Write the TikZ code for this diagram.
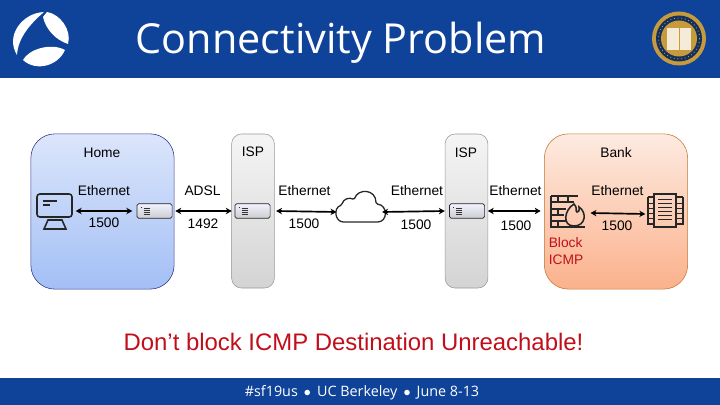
\documentclass[tikz,border=0pt]{standalone}
\usepackage{fontspec}
\setmainfont{Liberation Sans}
\newfontfamily\titlefont{Open Sans}
\usetikzlibrary{arrows.meta,positioning,calc}
\definecolor{hdrblue}{HTML}{0F4299}
\definecolor{alertred}{HTML}{C00F1A}
\definecolor{sealgold}{HTML}{C79B3B}
\definecolor{sealnavy}{HTML}{14305E}
\definecolor{hometop}{HTML}{DCE6FB}
\definecolor{homebot}{HTML}{A3BFF5}
\definecolor{banktop}{HTML}{FDEBE1}
\definecolor{bankbot}{HTML}{FBB18C}
\begin{document}
\begin{tikzpicture}[
    x=0.025cm, y=-0.025cm,
    font=\fontsize{9.8pt}{11.5pt}\selectfont,
    site/.style={draw, rounded corners=0.6cm, minimum width=3.58cm, minimum height=3.88cm, inner sep=0pt},
    homesite/.style={site, draw=blue!45!black!80, top color=hometop, bottom color=homebot},
    banksite/.style={site, draw=orange!70!black!80, top color=banktop, bottom color=bankbot},
    ispbar/.style={draw=black!40, rounded corners=0.25cm, minimum width=1.07cm, minimum height=3.85cm, inner sep=0pt, top color=black!4, bottom color=black!17},
    rtr/.style={draw=black!85, rounded corners=0.4mm, minimum width=0.88cm, minimum height=0.36cm, inner sep=0pt, top color=blue!5!white, bottom color=blue!10!black!20, line width=0.5pt},
    spot/.style={inner sep=0pt, minimum width=0.95cm, minimum height=0.8cm},
    link/.style={{Stealth[length=1.5mm,width=1.6mm]}-{Stealth[length=1.5mm,width=1.6mm]}, line width=1.2pt},
    icon/.style={line width=1.1pt, black!85},
    lbl/.style={inner sep=0pt},
    alert/.style={lbl, text=alertred}
  ]
  \useasboundingbox (0,0) rectangle (720,405);
  \fill[hdrblue] (0,0) rectangle (720,78.5);
  \fill[hdrblue] (0,377.5) rectangle (720,405);

  \fill[white] (44,12) .. controls (22,13) and (5,36) .. (17,55) .. controls (18,38) and (30,24) .. (44,12);
  \fill[white] (43,17) -- (47,12) .. controls (60,14) and (72,30) .. (68,44) .. controls (56,40) and (46,30) .. (43,17);
  \fill[white] (23,60) .. controls (28,50) and (50,42) .. (65,50) .. controls (58,66) and (36,72) .. (23,60);

  \fill[sealgold] (679,38.5) circle (27);
  \fill[sealnavy] (679,38.5) circle (23);
  \draw[sealgold, line width=0.6pt, dotted] (679,38.5) circle (20.5);
  \fill[sealgold] (679,38.5) circle (18);
  \fill[white!80!sealgold] (667,28) rectangle (691,50);
  \draw[sealgold, line width=0.5pt] (679,28) -- (679,50);

  \node[text=white, font=\titlefont\fontsize{29.4pt}{34pt}\selectfont, lbl] (title) at (341,43) {Connectivity Problem};

  \node[homesite] (home) at (102.5,211.5) {};
  \node[banksite] (bank) at (616,211.5) {};
  \node[ispbar] (isp1) at (253,211) {};
  \node[ispbar] (isp2) at (466.5,211) {};

  \node[rtr] (rtr1) at (154.5,211) {};
  \node[rtr] (rtr2) at (252.5,211) {};
  \node[rtr] (rtr3) at (467,211) {};
  \foreach \r in {rtr1,rtr2,rtr3} {
    \draw[black!80, line width=0.3pt] ($(\r.west)+(4,-4)$) -- ++(1,0);
    \foreach \d in {-3,-1,1,3}
      \draw[black!80, line width=0.35pt] ($(\r.center)+(-11,\d)$) -- ++(6,0);
  }

  \node[spot] (pc) at (55,211) {};
  \draw[icon, rounded corners=0.7mm] (37,194) rectangle (72,217);
  \draw[icon] (44,229) -- (48,220) -- (62,220) -- (66,229) -- cycle;
  \draw[icon] (43,201) -- (57,201) (43,205) -- (50,205);

  \node[spot] (cloud) at (360,212) {};
  \draw[icon, line width=0.9pt, rounded corners=0.4mm] (345,222)
    .. controls (335,222) and (333,208) .. (342,205)
    .. controls (343,199) and (350,197) .. (354,200)
    .. controls (358,188) and (376,189) .. (376,204)
    .. controls (388,205) and (388,222) .. (376,222) -- cycle;

  \node[spot] (fw) at (567,213) {};
  \draw[icon] (551,196) -- (578,196) (551,196) -- (551,227) -- (585,227)
    (551,202) -- (574,202) (551,209) -- (566,209) (551,215) -- (564,215) (551,221) -- (566,221)
    (558,196) -- (558,202) (568,196) -- (568,202) (558,209) -- (558,215) (558,221) -- (558,227);
  \draw[icon] (574,204) .. controls (578,208) and (575,211) .. (577,212)
    .. controls (580,212) and (579,208) .. (579,207)
    .. controls (587,212) and (586,226) .. (574,226)
    .. controls (562,226) and (564,210) .. (574,204) -- cycle;

  \node[spot] (srv) at (666,214) {};
  \draw[icon] (654,194) rectangle (676,227);
  \draw[icon, line width=0.9pt] (648,197) -- (654,197) (648,197) -- (648,224) -- (654,224)
    (683,197) -- (676,197) (683,197) -- (683,224) -- (676,224);
  \foreach \y in {199,203,207,211,215,219}
    \draw[icon, line width=0.7pt] (658,\y) -- (672,\y);
  \foreach \y in {203,208,213,218} {
    \draw[icon, line width=0.6pt] (648,\y) -- (654,\y);
    \draw[icon, line width=0.6pt] (676,\y) -- (683,\y);
  }

  \draw[link] ([xshift=1pt]pc.east |- rtr1) -- ([xshift=-3pt]rtr1.west);
  \draw[link] ([xshift=2pt]rtr1.east) -- ([xshift=-2pt]rtr2.west);
  \draw[link] ([xshift=4pt]rtr2.east) -- ([xshift=-3pt]cloud.west);
  \draw[link] ([xshift=2pt]cloud.east) -- ([xshift=-3pt]rtr3.west);
  \draw[link] ([xshift=2pt]rtr3.east) -- ([xshift=-5pt]fw.west |- rtr3);
  \draw[link] ([xshift=3pt]fw.east) -- ([xshift=-1pt]srv.west);

  \node[lbl] (lhome) at (102,153) {Home};
  \node[lbl] (lisp1) at (253,152) {ISP};
  \node[lbl] (lisp2) at (466,153) {ISP};
  \node[lbl] (lbank) at (616,153) {Bank};
  \node[lbl] (eth1) at (104,190.5) {Ethernet};
  \node[lbl] (adsl) at (202.5,191) {ADSL};
  \node[lbl] (eth2) at (304.5,191) {Ethernet};
  \node[lbl] (eth3) at (417,191) {Ethernet};
  \node[lbl] (eth4) at (515.5,191) {Ethernet};
  \node[lbl] (eth5) at (617.5,191) {Ethernet};
  \node[lbl] (mtu1) at (104,223) {1500};
  \node[lbl] (mtu2) at (203,224) {1492};
  \node[lbl] (mtu3) at (304,224) {1500};
  \node[lbl] (mtu4) at (416,225) {1500};
  \node[lbl] (mtu5) at (516,226) {1500};
  \node[lbl] (mtu6) at (617,226) {1500};
  \node[alert, align=left] (block) at (566,251) {Block\\ICMP};
  \node[alert, font=\fontsize{17pt}{20pt}\selectfont] (msg) at (353.5,342) {Don’t block ICMP Destination Unreachable!};
  \node[lbl, text=white, font=\titlefont\fontsize{10.2pt}{12pt}\selectfont] (foot) at (362,393) {\#sf19us \,$\bullet$\, UC Berkeley \,$\bullet$\, June 8-13};
\end{tikzpicture}
\end{document}
